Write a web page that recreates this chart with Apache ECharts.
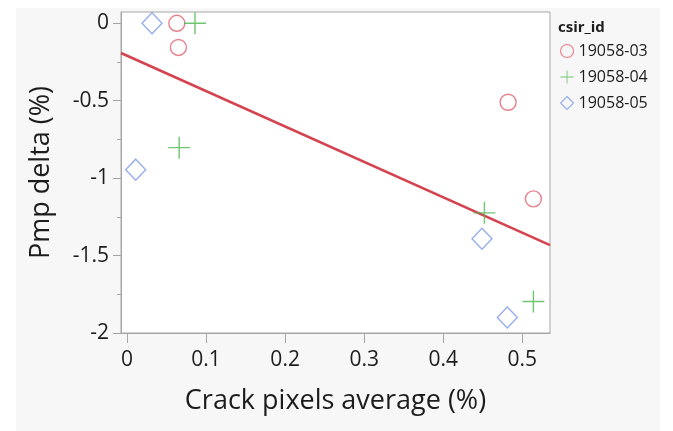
<!DOCTYPE html>
<html>
<head>
<meta charset="utf-8">
<script src="https://cdn.jsdelivr.net/npm/echarts@6/dist/echarts.min.js"></script>
<style>
  html, body { margin: 0; padding: 0; background: #ffffff; }
  #chart { width: 673px; height: 431px; }
</style>
</head>
<body>
<div id="chart"></div>
<script>
// Crack pixel average vs. Pmp delta, grouped by csir_id
const groupNames = ['19058-03', '19058-04', '19058-05'];

const crack0358 = [0.063, 0.065, 0.482, 0.514];
const pmp0358 = [0.0, -0.156, -0.51, -1.134];

const crack0459 = [0.086, 0.066, 0.452, 0.514];
const pmp0459 = [0.0, -0.803, -1.224, -1.797];

const crack0560 = [0.0316, 0.011, 0.449, 0.481];
const pmp0560 = [0.0, -0.945, -1.391, -1.90];

const xTicks = [0, 0.1, 0.2, 0.3, 0.4, 0.5];
const yTicks = [-2, -1.5, -1, -0.5, 0];
const yMinorTicks = [-1.75, -1.25, -0.75, -0.25];

const xRange = [-0.0076, 0.535];
const yRange = [-2.0, 0.073];

const pairs = (xs, ys) => xs.map((x, i) => [x, ys[i]]);
const groups = [pairs(crack0358, pmp0358), pairs(crack0459, pmp0459), pairs(crack0560, pmp0560)];

// Least-squares fit over all points
const all = groups.flat();
const n = all.length;
const mx = all.reduce((s, p) => s + p[0], 0) / n;
const my = all.reduce((s, p) => s + p[1], 0) / n;
let sxy = 0, sxx = 0;
all.forEach(p => { sxy += (p[0] - mx) * (p[1] - my); sxx += (p[0] - mx) * (p[0] - mx); });
const slope = sxy / sxx;
const intercept = my - slope * mx;
const fitLine = xRange.map(x => [x, intercept + slope * x]);

const FONT = '"Open Sans", "Noto Sans", sans-serif';
const TEXT = '#1c1c1c';
const AXIS = '#a6a6a6';

const chart = echarts.init(document.getElementById('chart'), null, { renderer: 'canvas' });

const plusPath = 'path://M0,10.3h22v1.4h-22z M10.3,0h1.4v22h-1.4z';

chart.setOption({
  animation: false,
  backgroundColor: '#ffffff',
  graphic: {
    elements: [{
      type: 'rect', z: -10, silent: true,
      shape: { x: 16, y: 8, width: 644, height: 423 },
      style: { fill: '#f7f7f7' }
    }]
  },
  title: {
    text: 'csir_id', left: 553, top: 15,
    textStyle: { fontFamily: FONT, fontSize: 15, fontWeight: 'bold', color: TEXT }
  },
  legend: {
    orient: 'vertical', left: 555, top: 38,
    itemWidth: 13, itemHeight: 13, itemGap: 10,
    data: groupNames,
    itemStyle: { borderWidth: 1.1 },
    textStyle: { fontFamily: FONT, fontSize: 16, color: TEXT }
  },
  grid: {
    left: 121, top: 12, width: 429, height: 321,
    show: true, backgroundColor: '#ffffff', borderColor: AXIS, borderWidth: 1
  },
  xAxis: {
    type: 'value', min: xRange[0], max: xRange[1],
    name: 'Crack pixels average (%)', nameLocation: 'middle', nameGap: 55,
    nameTextStyle: { fontFamily: FONT, fontSize: 27, color: TEXT },
    axisLine: { show: true, onZero: false, lineStyle: { color: AXIS } },
    axisTick: { show: true, length: 10, customValues: xTicks, lineStyle: { color: AXIS } },
    axisLabel: { customValues: xTicks, margin: 17, fontFamily: FONT, fontSize: 21, color: TEXT,
                 formatter: v => String(v) },
    splitLine: { show: false }
  },
  yAxis: [{
    type: 'value', min: yRange[0], max: yRange[1],
    name: 'Pmp delta (%)', nameLocation: 'middle', nameGap: 66, nameRotate: 90,
    nameTextStyle: { fontFamily: FONT, fontSize: 27, color: TEXT },
    axisLine: { show: true, onZero: false, lineStyle: { color: AXIS } },
    axisTick: { show: true, length: 8, customValues: yTicks, lineStyle: { color: AXIS } },
    axisLabel: { customValues: yTicks, margin: 12, fontFamily: FONT, fontSize: 21, color: TEXT,
                 formatter: v => String(v) },
    splitLine: { show: false }
  }, {
    type: 'value', min: yRange[0], max: yRange[1], position: 'left',
    axisLine: { show: false, onZero: false },
    axisTick: { show: true, length: 4, customValues: yMinorTicks, lineStyle: { color: AXIS } },
    axisLabel: { show: false },
    splitLine: { show: false }
  }],
  series: [{
    type: 'line', name: 'fit', data: fitLine, yAxisIndex: 0,
    symbol: 'none', silent: true, z: 1,
    lineStyle: { color: '#d4434f', width: 2.6 }
  }, {
    type: 'scatter', name: groupNames[0], data: groups[0], z: 3,
    symbol: 'circle', symbolSize: 16,
    itemStyle: { color: 'rgba(0,0,0,0)', borderColor: '#e0616e', borderWidth: 1.4 }
  }, {
    type: 'scatter', name: groupNames[1], data: groups[1], z: 3,
    symbol: plusPath, symbolSize: 22,
    itemStyle: { color: '#4bb84f' }
  }, {
    type: 'scatter', name: groupNames[2], data: groups[2], z: 3,
    symbol: 'diamond', symbolSize: [20, 21],
    itemStyle: { color: 'rgba(0,0,0,0)', borderColor: '#7c9ae6', borderWidth: 1.4 }
  }]
});
</script>
</body>
</html>
